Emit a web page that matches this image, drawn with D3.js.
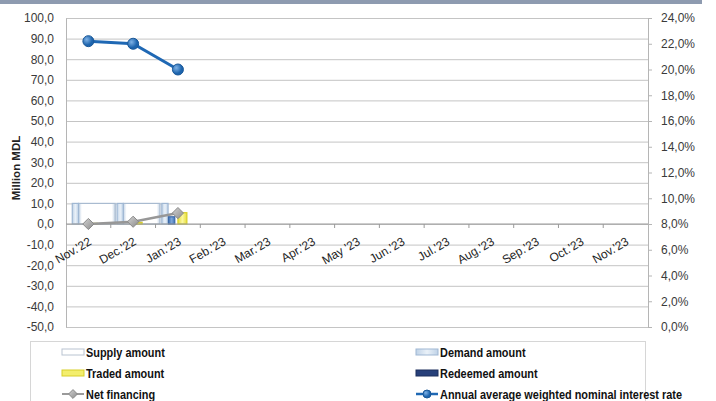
<!DOCTYPE html>
<html>
<head>
<meta charset="utf-8">
<script src="https://cdn.jsdelivr.net/npm/d3@7"></script>
<style>
  body { margin: 0; background: #fff; }
  svg { display: block; }
</style>
</head>
<body>
<div id="chart"></div>
<script>
// months on the category axis
var months = ["Nov.'22", "Dec.'22", "Jan.'23", "Feb.'23", "Mar.'23", "Apr.'23", "May '23",
              "Jun.'23", "Jul.'23", "Aug.'23", "Sep.'23", "Oct.'23", "Nov.'23"];

// bar series, million MDL (only the first three months have values)
var supplyAmount   = [10.0, 10.0, null];
var demandAmount   = [10.0, 10.0, 10.0];
var tradedAmount   = [0.3, 0.8, 5.5];
var redeemedAmount = [null, null, 3.5];

// line series
var netFinancing = [0.0, 1.1, 5.3];          // million MDL
var interestRate = [22.2, 22.0, 20.0];       // %, right axis

var leftTicks = [100, 90, 80, 70, 60, 50, 40, 30, 20, 10, 0, -10, -20, -30, -40, -50];
var rightTicks = [24, 22, 20, 18, 16, 14, 12, 10, 8, 6, 4, 2, 0];

var W = 716, H = 401;
var plot = { left: 66, right: 648, top: 18, bottom: 327 };

var locale = d3.formatLocale({ decimal: ",", thousands: " ", grouping: [3], currency: ["", ""], minus: "-" });
var fmt1 = locale.format(".1f");

var svg = d3.select("#chart").append("svg")
    .attr("width", W)
    .attr("height", H);

var defs = svg.append("defs");
function hGrad(id, stops) {
    var g = defs.append("linearGradient").attr("id", id)
        .attr("x1", 0).attr("x2", 1).attr("y1", 0).attr("y2", 0);
    stops.forEach(s => g.append("stop").attr("offset", s[0]).attr("stop-color", s[1]));
}
hGrad("gSupply", [["0%", "#c3d3e5"], ["9%", "#ffffff"], ["91%", "#ffffff"], ["100%", "#c3d3e5"]]);
hGrad("gDemand", [["0%", "#bfd2e7"], ["50%", "#eaf1f8"], ["100%", "#bfd2e7"]]);
hGrad("gRedeemed", [["0%", "#4173b6"], ["50%", "#7ea6d8"], ["100%", "#4173b6"]]);
hGrad("gTraded", [["0%", "#e7df3a"], ["50%", "#fbf7a0"], ["100%", "#e7df3a"]]);
var rg = defs.append("radialGradient").attr("id", "gDot").attr("cx", "35%").attr("cy", "35%");
rg.append("stop").attr("offset", "0%").attr("stop-color", "#7fb2e6");
rg.append("stop").attr("offset", "100%").attr("stop-color", "#1d64ad");
var rd = defs.append("linearGradient").attr("id", "gDiam").attr("x1", 0).attr("y1", 0).attr("x2", 1).attr("y2", 1);
rd.append("stop").attr("offset", "0%").attr("stop-color", "#d4d4d4");
rd.append("stop").attr("offset", "100%").attr("stop-color", "#8a8a8a");

// header strip
svg.append("rect")
    .attr("x", 0).attr("y", 0).attr("width", 702).attr("height", 4)
    .attr("fill", "#8e9bb0");

var x = d3.scaleBand()
    .domain(months)
    .range([plot.left, plot.right])
    .paddingInner(0).paddingOuter(0);

var y = d3.scaleLinear()
    .domain([-50, 100])
    .range([plot.bottom, plot.top]);

var y2 = d3.scaleLinear()
    .domain([0, 24])
    .range([plot.bottom, plot.top]);

// horizontal grid lines
svg.append("g")
    .attr("class", "grid")
    .attr("transform", "translate(" + plot.left + ",0)")
    .call(d3.axisLeft(y).tickValues(leftTicks).tickSize(-(plot.right - plot.left)).tickFormat(""))
    .call(g => g.select(".domain").remove())
    .call(g => g.selectAll("line").attr("stroke", "#c4c4c4"));

// left axis
var yAxisG = svg.append("g")
    .attr("transform", "translate(" + plot.left + ",0)")
    .call(d3.axisLeft(y).tickValues(leftTicks).tickSize(0).tickPadding(12).tickFormat(fmt1));
yAxisG.select(".domain").attr("stroke", "#b5b5b5");
yAxisG.selectAll("text")
    .attr("font-family", "'Liberation Sans', Arial, sans-serif")
    .attr("font-size", "12px")
    .attr("fill", "#3a3a3a");

// right axis
var y2AxisG = svg.append("g")
    .attr("transform", "translate(" + plot.right + ",0)")
    .call(d3.axisRight(y2).tickValues(rightTicks).tickSize(4).tickPadding(9)
        .tickFormat(d => fmt1(d) + "%"));
y2AxisG.select(".domain").attr("stroke", "#b5b5b5");
y2AxisG.selectAll("line").attr("stroke", "#b5b5b5");
y2AxisG.selectAll("text")
    .attr("font-family", "'Liberation Sans', Arial, sans-serif")
    .attr("font-size", "12px")
    .attr("fill", "#3a3a3a");

// left axis title
svg.append("text")
    .attr("transform", "translate(20,168) rotate(-90)")
    .attr("text-anchor", "middle")
    .attr("font-family", "'Liberation Sans', Arial, sans-serif")
    .attr("font-size", "11.5px")
    .attr("font-weight", "bold")
    .attr("fill", "#222")
    .text("Million MDL");

// bars: layout given as fractions of a category band
var bw = x.bandwidth();
var barSeries = [
    { name: "Supply amount",   values: supplyAmount,   from: 0.28, to: 1.10, fill: "url(#gSupply)",   stroke: "#a9bbd0" },
    { name: "Demand amount",   values: demandAmount,   from: 0.14, to: 0.28, fill: "url(#gDemand)",   stroke: "#9fb7d3" },
    { name: "Redeemed amount", values: redeemedAmount, from: 0.29, to: 0.43, fill: "url(#gRedeemed)", stroke: "#3b69a8" },
    { name: "Traded amount",   values: tradedAmount,   from: 0.50, to: 0.70, fill: "url(#gTraded)",   stroke: "#d8cf2a" }
];
barSeries.forEach(function(s) {
    svg.append("g")
        .selectAll("rect")
        .data(s.values.map((v, i) => ({ m: months[i], v: v })).filter(d => d.v != null))
        .join("rect")
        .attr("x", d => x(d.m) + s.from * bw)
        .attr("width", (s.to - s.from) * bw)
        .attr("y", d => y(Math.max(0, d.v)))
        .attr("height", d => Math.abs(y(d.v) - y(0)))
        .attr("fill", s.fill)
        .attr("stroke", s.stroke)
        .attr("stroke-width", 1.2);
});

// category axis sits on the zero line
var xAxisG = svg.append("g")
    .attr("transform", "translate(0," + y(0) + ")");
xAxisG.append("line")
    .attr("x1", plot.left).attr("x2", plot.right)
    .attr("stroke", "#9a9a9a");
xAxisG.selectAll(".tick")
    .data(months.slice(1))
    .join("line")
    .attr("class", "tick")
    .attr("x1", d => x(d)).attr("x2", d => x(d))
    .attr("y1", 0).attr("y2", 4)
    .attr("stroke", "#9a9a9a");
xAxisG.selectAll(".lbl")
    .data(months)
    .join("text")
    .attr("class", "lbl")
    .attr("text-anchor", "end")
    .attr("transform", d => "translate(" + (x(d) + x.bandwidth() / 2 + 4) + ",20) rotate(-30)")
    .attr("font-family", "'Liberation Sans', Arial, sans-serif")
    .attr("font-size", "12px")
    .attr("fill", "#1e1e1e")
    .text(d => d);

// net financing line
var netPts = netFinancing.map((v, i) => ({ m: months[i], v: v }));
svg.append("path")
    .datum(netPts)
    .attr("fill", "none")
    .attr("stroke", "#979797")
    .attr("stroke-width", 2.5)
    .attr("d", d3.line().x(d => x(d.m) + bw / 2).y(d => y(d.v)));
svg.append("g")
    .selectAll("path")
    .data(netPts)
    .join("path")
    .attr("d", d3.symbol().type(d3.symbolDiamond2).size(80))
    .attr("transform", d => "translate(" + (x(d.m) + bw / 2) + "," + y(d.v) + ")")
    .attr("fill", "url(#gDiam)")
    .attr("stroke", "#8a8a8a")
    .attr("stroke-width", 1);

// interest rate line (right axis)
var ratePts = interestRate.map((v, i) => ({ m: months[i], v: v }));
svg.append("path")
    .datum(ratePts)
    .attr("fill", "none")
    .attr("stroke", "#1f68b4")
    .attr("stroke-width", 3)
    .attr("d", d3.line().x(d => x(d.m) + bw / 2).y(d => y2(d.v)));
svg.append("g")
    .selectAll("circle")
    .data(ratePts)
    .join("circle")
    .attr("cx", d => x(d.m) + bw / 2)
    .attr("cy", d => y2(d.v))
    .attr("r", 5.5)
    .attr("fill", "url(#gDot)")
    .attr("stroke", "#1a5898")
    .attr("stroke-width", 1);

// legend
var legend = svg.append("g");
legend.append("rect")
    .attr("x", 30.5).attr("y", 341.5)
    .attr("width", 615).attr("height", 80)
    .attr("fill", "#fff")
    .attr("stroke", "#d6d6d6");

var legendItems = [
    { label: "Supply amount", kind: "box", fill: "#ffffff", stroke: "#b9c4d1", col: 0, row: 0 },
    { label: "Demand amount", kind: "box", fill: "url(#gDemand)", stroke: "#9fb7d3", col: 1, row: 0 },
    { label: "Traded amount", kind: "box", fill: "#f3ee6d", stroke: "#d8cf2a", col: 0, row: 1 },
    { label: "Redeemed amount", kind: "box", fill: "#27407a", stroke: "#1d2f5c", col: 1, row: 1 },
    { label: "Net financing", kind: "diamond", col: 0, row: 2 },
    { label: "Annual average weighted nominal interest rate", kind: "dot", col: 1, row: 2 }
];
var colX = [62, 416], rowY = [352, 373, 394];
legendItems.forEach(function(it) {
    var g = legend.append("g")
        .attr("transform", "translate(" + colX[it.col] + "," + rowY[it.row] + ")");
    if (it.kind === "box") {
        g.append("rect").attr("x", 0).attr("y", -3).attr("width", 22).attr("height", 6)
            .attr("fill", it.fill).attr("stroke", it.stroke);
    } else if (it.kind === "diamond") {
        g.append("line").attr("x1", 0).attr("x2", 22).attr("stroke", "#9a9a9a").attr("stroke-width", 2);
        g.append("path").attr("d", d3.symbol().type(d3.symbolDiamond2).size(50))
            .attr("transform", "translate(11,0)")
            .attr("fill", "url(#gDiam)").attr("stroke", "#8a8a8a");
    } else {
        g.append("line").attr("x1", 0).attr("x2", 22).attr("stroke", "#1f68b4").attr("stroke-width", 2.5);
        g.append("circle").attr("cx", 11).attr("r", 4)
            .attr("fill", "url(#gDot)").attr("stroke", "#1a5898");
    }
    // narrow face is not installed, so squeeze the regular one horizontally
    g.append("text")
        .attr("transform", "translate(24,4.5) scale(0.84,1)")
        .attr("font-family", "'Liberation Sans', Arial, sans-serif")
        .attr("font-size", "13px")
        .attr("font-weight", "600")
        .attr("fill", "#111")
        .text(it.label);
});
</script>
</body>
</html>
